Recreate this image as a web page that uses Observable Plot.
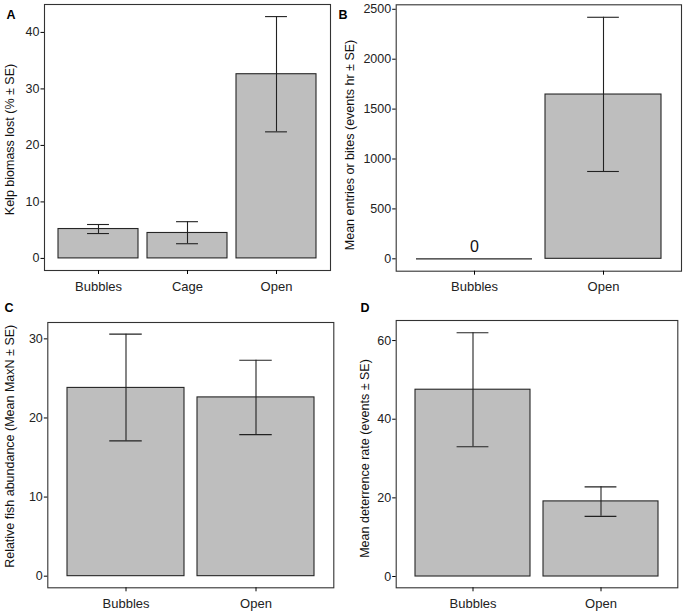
<!DOCTYPE html>
<html><head><meta charset="utf-8">
<script src="https://cdn.jsdelivr.net/npm/d3@7"></script>
<script src="https://cdn.jsdelivr.net/npm/@observablehq/plot@0.6"></script>
<style>
body{margin:0;background:#fff;}
#wrap{position:relative;width:686px;height:611px;overflow:hidden;}
#wrap > svg{position:absolute;overflow:visible;}
</style></head><body><div id="wrap"></div>
<script>
// Panel A: kelp biomass lost
const catsA = ["Bubbles", "Cage", "Open"];
const meanA = [5.2, 4.5, 32.6];
const loA = [4.4, 2.6, 22.4];
const hiA = [6.0, 6.5, 42.8];
const ticksA = [0, 10, 20, 30, 40];
// Panel B: entries or bites
const catsB = ["Bubbles", "Open"];
const meanB = [0, 1646];
const loB = [null, 875];
const hiB = [null, 2420];
const ticksB = [0, 500, 1000, 1500, 2000, 2500];
// Panel C: relative fish abundance
const catsC = ["Bubbles", "Open"];
const meanC = [23.8, 22.6];
const loC = [17.1, 17.9];
const hiC = [30.6, 27.3];
const ticksC = [0, 10, 20, 30];
// Panel D: deterrence rate
const catsD = ["Bubbles", "Open"];
const meanD = [47.5, 19.1];
const loD = [33.0, 15.3];
const hiD = [62.0, 22.8];
const ticksD = [0, 20, 40, 60];

const FONT = "'Liberation Sans', Arial, Helvetica, sans-serif";
const wrap = document.getElementById("wrap");

function panel(c) {
  const data = c.cats.map((cat, i) => ({cat, mean: c.mean[i], lo: c.lo[i], hi: c.hi[i]}));
  const err = data.filter(d => d.lo != null);
  const n = c.cats.length;
  const innerW = c.width - c.mL - c.mR;
  const step = innerW / (n + 0.2);
  const inset = 0.325 * step;
  const ink = "#222";
  const marks = [
    Plot.barY(data.filter(d => d.mean > 0), {x: "cat", y: "mean", fill: "#bebebe", stroke: "#262626", strokeWidth: 1.1}),
    Plot.tickY(data.filter(d => d.mean === 0), {x: "cat", y: "mean", stroke: "#262626", strokeWidth: 1.2}),
    Plot.ruleX(err, {x: "cat", y1: "lo", y2: "hi", stroke: ink, strokeWidth: 1.1}),
    Plot.tickY(err, {x: "cat", y: "lo", stroke: ink, strokeWidth: 1.1, insetLeft: inset, insetRight: inset}),
    Plot.tickY(err, {x: "cat", y: "hi", stroke: ink, strokeWidth: 1.1, insetLeft: inset, insetRight: inset}),
    Plot.text(data.filter(d => d.mean === 0), {x: "cat", y: "mean", text: d => String(d.mean), fontSize: 16, dy: -11.5, lineAnchor: "middle", fill: "#111"}),
    Plot.frame({stroke: "#333", strokeWidth: 1.1}),
    Plot.axisY({ticks: c.ticks, tickFormat: d => String(d), tickSize: 3.5, tickPadding: 1.5, label: null, fill: ink, fontSize: 12.5}),
    Plot.axisX({tickSize: 4, tickPadding: 7, label: null, fill: ink, fontSize: 13}),
    Plot.text([c.letter], {frameAnchor: "top-left", text: d => d, textAnchor: "start", lineAnchor: "middle",
      dx: c.letterX - c.left - c.mL, dy: c.letterY - c.top - c.mT, fontWeight: "bold", fontSize: 12.5, fill: "#000"}),
    Plot.text([c.title], {frameAnchor: "top-left", text: d => d, textAnchor: "middle", lineAnchor: "middle", rotate: -90,
      dx: c.titleX - c.left - c.mL, dy: c.titleY - c.top - c.mT, fontSize: 12.5, fill: "#111"})
  ];
  const svg = Plot.plot({
    width: c.width, height: c.height,
    marginLeft: c.mL, marginRight: c.mR, marginTop: c.mT, marginBottom: c.mB,
    style: {fontFamily: FONT, fontSize: "12.5px", background: "transparent", overflow: "visible"},
    x: {type: "band", domain: c.cats, paddingInner: 0.1, paddingOuter: 0.15},
    y: {domain: c.domain},
    marks
  });
  svg.style.left = c.left + "px";
  svg.style.top = c.top + "px";
  wrap.appendChild(svg);
}

panel({left: 0, top: 0, width: 343, height: 300, mL: 44, mR: 13, mT: 4, mB: 30,
  cats: catsA, mean: meanA, lo: loA, hi: hiA, ticks: ticksA, domain: [-2.14, 44.94],
  letter: "A", letterX: 6, letterY: 14, title: "Kelp biomass lost (% ± SE)", titleX: 9, titleY: 139});
panel({left: 343, top: 0, width: 343, height: 300, mL: 52.7, mR: 5, mT: 4.3, mB: 29.3,
  cats: catsB, mean: meanB, lo: loB, hi: hiB, ticks: ticksB, domain: [-124, 2545],
  letter: "B", letterX: 338, letterY: 14, title: "Mean entries or bites (events hr ± SE)", titleX: 349, titleY: 144.5});
panel({left: 0, top: 300, width: 343, height: 311, mL: 47.3, mR: 9.7, mT: 22, mB: 23.7,
  cats: catsC, mean: meanC, lo: loC, hi: hiC, ticks: ticksC, domain: [-1.47, 32.07],
  letter: "C", letterX: 4, letterY: 307.5, title: "Relative fish abundance (Mean MaxN ± SE)", titleX: 9.5, titleY: 445.8});
panel({left: 343, top: 300, width: 343, height: 311, mL: 52.7, mR: 8.7, mT: 20, mB: 23.7,
  cats: catsD, mean: meanD, lo: loD, hi: hiD, ticks: ticksD, domain: [-2.87, 65.1],
  letter: "D", letterX: 360, letterY: 307.5, title: "Mean deterrence rate (events ± SE)", titleX: 364, titleY: 458});
</script>
</body></html>
